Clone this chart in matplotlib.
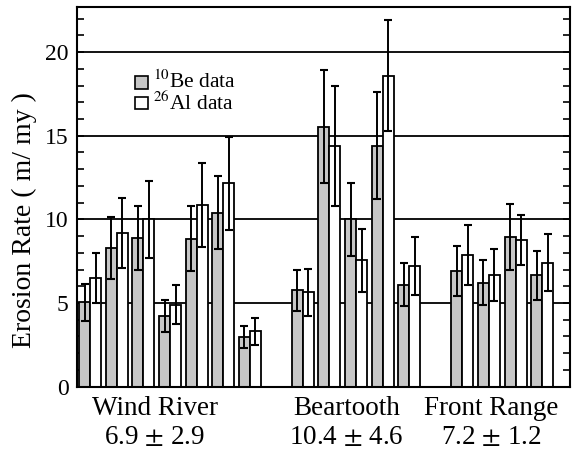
import matplotlib
matplotlib.use('Agg')
import matplotlib.pyplot as plt
from matplotlib.patches import Rectangle

plt.rcParams['font.family'] = ['Liberation Serif', 'DejaVu Serif']
plt.rcParams['mathtext.fontset'] = 'stix'

# bar slots (gaps between ranges)
slots = [0, 1, 2, 3, 4, 5, 6, 8, 9, 10, 11, 12, 14, 15, 16, 17]
be = [5.05, 8.3, 8.9, 4.2, 8.85, 10.4, 2.95, 5.75, 15.55, 10.0, 14.4, 6.1, 6.9, 6.2, 8.95, 6.65]
be_err = [1.1, 1.85, 1.9, 0.95, 1.95, 2.2, 0.65, 1.25, 3.4, 2.2, 3.2, 1.3, 1.5, 1.35, 1.95, 1.45]
al = [6.5, 9.2, 10.0, 4.9, 10.85, 12.15, 3.3, 5.65, 14.4, 7.55, 18.6, 7.2, 7.85, 6.65, 8.75, 7.4]
al_err = [1.5, 2.1, 2.3, 1.15, 2.5, 2.8, 0.8, 1.4, 3.6, 1.9, 3.3, 1.75, 1.8, 1.55, 1.5, 1.7]
ranges = ['Wind River', 'Beartooth', 'Front Range']
range_stats = ['6.9 $\\pm$ 2.9', '10.4 $\\pm$ 4.6', '7.2 $\\pm$ 1.2']
range_pos = [2.43, 9.65, 15.07]

GREY = '#c6c6c6'
w = 0.414

fig = plt.figure(figsize=(5.79, 4.53), dpi=100)
ax = fig.add_axes([0.133, 0.1466, 0.8515, 0.838])

xs_be = [s - w / 2 for s in slots]
xs_al = [s + w / 2 for s in slots]
ax.bar(xs_be, be, width=w, color=GREY, edgecolor='black', linewidth=1.3, zorder=2)
ax.bar(xs_al, al, width=w, color='white', edgecolor='black', linewidth=1.3, zorder=2)
ax.errorbar(xs_be, be, yerr=be_err, fmt='none', ecolor='black', elinewidth=1.4,
            capsize=3.2, capthick=1.5, zorder=3)
ax.errorbar(xs_al, al, yerr=al_err, fmt='none', ecolor='black', elinewidth=1.4,
            capsize=3.2, capthick=1.5, zorder=3)

ax.set_xlim(-0.5, 18.05)
ax.set_ylim(0, 22.7)
ax.set_yticks([0, 5, 10, 15, 20])
ax.set_yticks(range(0, 23), minor=True)
ax.yaxis.grid(True, which='major', color='black', linewidth=1.3)
ax.set_axisbelow(True)
ax.tick_params(axis='y', which='both', direction='in', left=True, right=True,
               length=5, width=1.2, labelsize=17, pad=6)
ax.tick_params(axis='x', bottom=False, labelbottom=False)
for sp in ax.spines.values():
    sp.set_linewidth(1.5)
ax.set_ylabel('Erosion Rate ( m/ my )', fontsize=20)
ax.yaxis.set_label_coords(-0.081, 0.439)

for name, stat, p in zip(ranges, range_stats, range_pos):
    ax.text(p, -0.058, name, transform=ax.get_xaxis_transform(), ha='center',
            va='center', fontsize=19.5)
    ax.text(p, -0.134, stat, transform=ax.get_xaxis_transform(), ha='center',
            va='center', fontsize=19.5)

# legend
for yy, fc, lab in [(18.2, GREY, '$^{10}$Be data'), (16.95, 'white', '$^{26}$Al data')]:
    ax.add_patch(Rectangle((1.68, yy - 0.38), 0.5, 0.76, facecolor=fc,
                           edgecolor='black', linewidth=1.2, zorder=4))
    ax.text(2.35, yy, lab, fontsize=15.5, va='center', ha='left', zorder=4)

fig.savefig('out.png', dpi=100)
